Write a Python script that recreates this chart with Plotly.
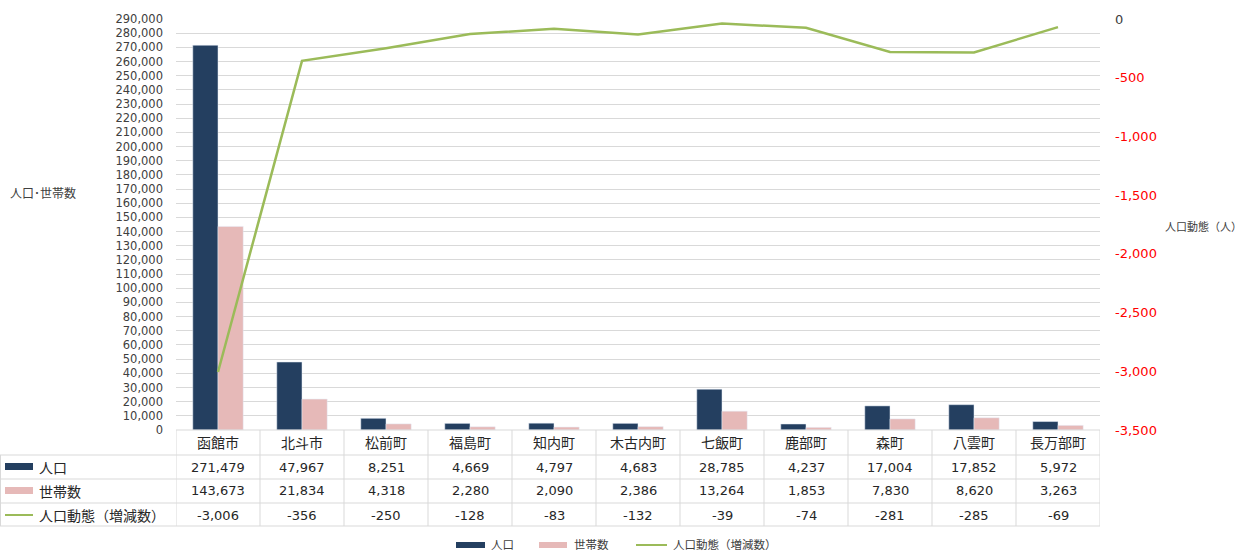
import plotly.graph_objects as go

categories = ["函館市", "北斗市", "松前町", "福島町", "知内町", "木古内町", "七飯町", "鹿部町", "森町", "八雲町", "長万部町"]
population = [271479, 47967, 8251, 4669, 4797, 4683, 28785, 4237, 17004, 17852, 5972]
households = [143673, 21834, 4318, 2280, 2090, 2386, 13264, 1853, 7830, 8620, 3263]
change = [-3006, -356, -250, -128, -83, -132, -39, -74, -281, -285, -69]

left_ticks = list(range(0, 290001, 10000))
right_ticks = [0, -500, -1000, -1500, -2000, -2500, -3000, -3500]

NAVY = "#243F60"
PINK = "#E6B9B8"
GREEN = "#9BBB59"
GRID = "#D9D9D9"
TXT = "#404040"
FONT = "Noto Sans CJK JP"
NUMFONT = "DejaVu Sans"

W, H = 1247, 552
L, R, T, B = 176, 1100, 19, 430


def px(xp):
    return (xp - L) / (R - L)


def py(yp):
    return (B - yp) / (B - T)


fig = go.Figure()
fig.add_trace(go.Bar(x=categories, y=population, name="人口", marker=dict(color=NAVY), yaxis="y"))
fig.add_trace(go.Bar(x=categories, y=households, name="世帯数", marker=dict(color=PINK), yaxis="y"))
fig.add_trace(go.Scatter(x=categories, y=change, name="人口動態（増減数）", mode="lines",
                         line=dict(color=GREEN, width=2.5), yaxis="y2"))

fig.update_layout(
    width=W, height=H,
    margin=dict(l=L, r=W - R, t=T, b=H - B),
    paper_bgcolor="white", plot_bgcolor="white",
    font=dict(family=FONT, size=12, color=TXT),
    showlegend=False,
    barmode="group", bargap=0.4, bargroupgap=0,
    xaxis=dict(type="category", range=[-0.5, 10.5], showticklabels=False, showgrid=False,
               showline=False, zeroline=False, ticks=""),
    yaxis=dict(range=[0, 290000], tickvals=left_ticks,
               ticktext=[f"{v:,}" for v in left_ticks],
               showgrid=True, gridcolor=GRID, gridwidth=1, zeroline=False, showline=False,
               tickfont=dict(family=NUMFONT, size=11.5, color=TXT), ticklabelstandoff=12),
    yaxis2=dict(range=[-3500, 0], overlaying="y", side="right", tickvals=right_ticks,
                ticktext=[("<span style='color:#404040'>0</span>" if v == 0 else f"{v:,}") for v in right_ticks],
                showgrid=False, zeroline=False, showline=False,
                tickfont=dict(family=NUMFONT, size=13, color="#FF0000"), ticklabelstandoff=14),
)

shapes = []
annotations = []

# axis titles
annotations.append(dict(x=px(8), y=py(192), xref="paper", yref="paper", text="人口･世帯数",
                        showarrow=False, xanchor="left", yanchor="middle", font=dict(size=12, color=TXT)))
annotations.append(dict(x=px(1163), y=py(226), xref="paper", yref="paper", text="人口動態（人）",
                        showarrow=False, xanchor="left", yanchor="middle", font=dict(size=11, color=TXT)))

# data table
row_lines = [430, 455, 479, 503, 526]
for i, yl in enumerate(row_lines):
    x0 = px(176) if i == 0 else px(0)
    shapes.append(dict(type="line", xref="paper", yref="paper", x0=x0, x1=1, y0=py(yl), y1=py(yl),
                       line=dict(color=GRID, width=1)))
for k in range(len(categories) + 1):
    shapes.append(dict(type="line", xref="x", yref="paper", x0=k - 0.5, x1=k - 0.5,
                       y0=py(430), y1=py(526), line=dict(color=GRID, width=1)))
shapes.append(dict(type="line", xref="paper", yref="paper", x0=px(0.5), x1=px(0.5),
                   y0=py(455), y1=py(526), line=dict(color=GRID, width=1)))

row_centers = [467, 491, 515]
rows = [population, households, change]
for j, cat in enumerate(categories):
    annotations.append(dict(x=cat, y=py(442), xref="x", yref="paper", text=cat, showarrow=False,
                            xanchor="center", yanchor="middle", font=dict(size=14, color="#262626")))
    for r, vals in enumerate(rows):
        annotations.append(dict(x=cat, y=py(row_centers[r]), xref="x", yref="paper",
                                text=f"{vals[j]:,}", showarrow=False, xanchor="center",
                                yanchor="middle", font=dict(family=NUMFONT, size=13, color="#262626")))

labels = ["人口", "世帯数", "人口動態（増減数）"]
shapes.append(dict(type="rect", xref="paper", yref="paper", x0=px(5), x1=px(33), y0=py(470), y1=py(463),
                   fillcolor=NAVY, line=dict(width=0)))
shapes.append(dict(type="rect", xref="paper", yref="paper", x0=px(5), x1=px(33), y0=py(494), y1=py(487),
                   fillcolor=PINK, line=dict(width=0)))
shapes.append(dict(type="line", xref="paper", yref="paper", x0=px(5), x1=px(33), y0=py(515), y1=py(515),
                   line=dict(color=GREEN, width=2)))
for r, lab in enumerate(labels):
    annotations.append(dict(x=px(37), y=py(row_centers[r]), xref="paper", yref="paper", text=lab,
                            showarrow=False, xanchor="left", yanchor="middle",
                            font=dict(size=14, color="#262626")))

# bottom legend
shapes.append(dict(type="rect", xref="paper", yref="paper", x0=px(456), x1=px(485), y0=py(548), y1=py(542),
                   fillcolor=NAVY, line=dict(width=0)))
shapes.append(dict(type="rect", xref="paper", yref="paper", x0=px(539), x1=px(567), y0=py(548), y1=py(542),
                   fillcolor=PINK, line=dict(width=0)))
shapes.append(dict(type="line", xref="paper", yref="paper", x0=px(636), x1=px(667), y0=py(545), y1=py(545),
                   line=dict(color=GREEN, width=2)))
for xx, lab in [(489, "人口"), (572, "世帯数"), (671, "人口動態（増減数）")]:
    annotations.append(dict(x=px(xx), y=py(544), xref="paper", yref="paper", text=lab, showarrow=False,
                            xanchor="left", yanchor="middle", font=dict(size=11.5, color=TXT)))

fig.update_layout(shapes=shapes, annotations=annotations)
fig.write_html("out.html", config={"displayModeBar": False})

with open("out.html", "r", encoding="utf-8") as f:
    html = f.read()
html = html.replace("<head>", "<head><style>html,body{margin:0;padding:0;overflow:hidden;}</style>", 1)
with open("out.html", "w", encoding="utf-8") as f:
    f.write(html)
